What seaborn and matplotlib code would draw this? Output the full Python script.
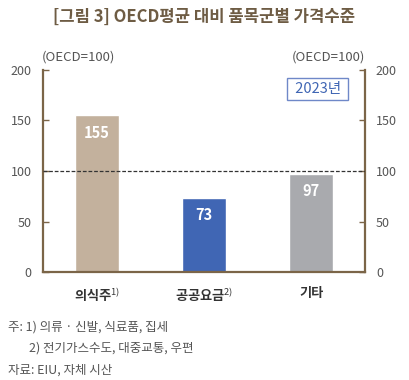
import matplotlib
matplotlib.use('Agg')
import matplotlib.pyplot as plt
import seaborn as sns
import pandas as pd

categories = ['의식주', '공공요금', '기타']
sup = ['1)', '2)', '']
values = [155, 73, 97]
colors = ['#C3B19D', '#4066B4', '#A9AAAE']

df = pd.DataFrame({'cat': categories, 'val': values})

sns.set_style('white')
plt.rcParams['font.family'] = ['Noto Sans CJK KR', 'DejaVu Sans']
plt.rcParams['mathtext.fontset'] = 'custom'
plt.rcParams['mathtext.rm'] = 'Noto Sans CJK KR'

brown = '#7B6548'
gray = '#555555'

fig = plt.figure(figsize=(4.09, 3.8), dpi=100)
ax = fig.add_axes([0.105, 0.284, 0.787, 0.532])

sns.barplot(data=df, x='cat', y='val', hue='cat', palette=colors,
            width=0.41, legend=False, ax=ax, saturation=1)
ax.set_xlim(-0.5, 2.5)
ax.set_ylim(0, 200)
ax.set_yticks([0, 50, 100, 150, 200])
ax.axhline(100, color='#333333', lw=0.9, ls=(0, (3, 1.5)), zorder=3)

for i, v in enumerate(values):
    ax.text(i, v - 17, str(v), ha='center', va='center', color='white',
            fontsize=10.5, fontweight='bold')

for s in ['left', 'right', 'bottom']:
    ax.spines[s].set_color(brown)
    ax.spines[s].set_linewidth(1.6)
ax.spines['top'].set_visible(False)

ax.tick_params(axis='y', direction='in', length=4, color=brown, width=1,
               labelsize=9, labelcolor=gray, left=True, right=True,
               labelleft=True, labelright=True, pad=8)
ax.tick_params(axis='x', length=0, pad=10)
ax.set_xticks(range(3))
ax.set_xticklabels([c + (f'$^{{{s}}}$' if s else '') for c, s in zip(categories, sup)],
                   fontsize=9.5, fontweight='bold', color='#333333')
ax.set_xlabel('')
ax.set_ylabel('')

fig.text(0.5, 0.955, '[그림 3] OECD평균 대비 품목군별 가격수준', ha='center',
         va='center', fontsize=12, fontweight='bold', color='#6E5C44')
fig.text(0.103, 0.85, '(OECD=100)', ha='left', va='center', fontsize=9.5, color=gray)
fig.text(0.893, 0.85, '(OECD=100)', ha='right', va='center', fontsize=9.5, color=gray)
ax.text(0.935, 0.94, ' 2023년 ', transform=ax.transAxes, ha='right', va='top',
        fontsize=10.5, color='#4066B4',
        bbox=dict(boxstyle='square,pad=0.3', fc='white', ec='#6F88C8', lw=1))

fig.text(0.02, 0.14, '주: 1) 의류 · 신발, 식료품, 집세', fontsize=9, color=gray, va='center')
fig.text(0.07, 0.083, '2) 전기가스수도, 대중교통, 우편', fontsize=9, color=gray, va='center')
fig.text(0.02, 0.027, '자료: EIU, 자체 시산', fontsize=9, color=gray, va='center')

fig.savefig('out.png', dpi=100)
